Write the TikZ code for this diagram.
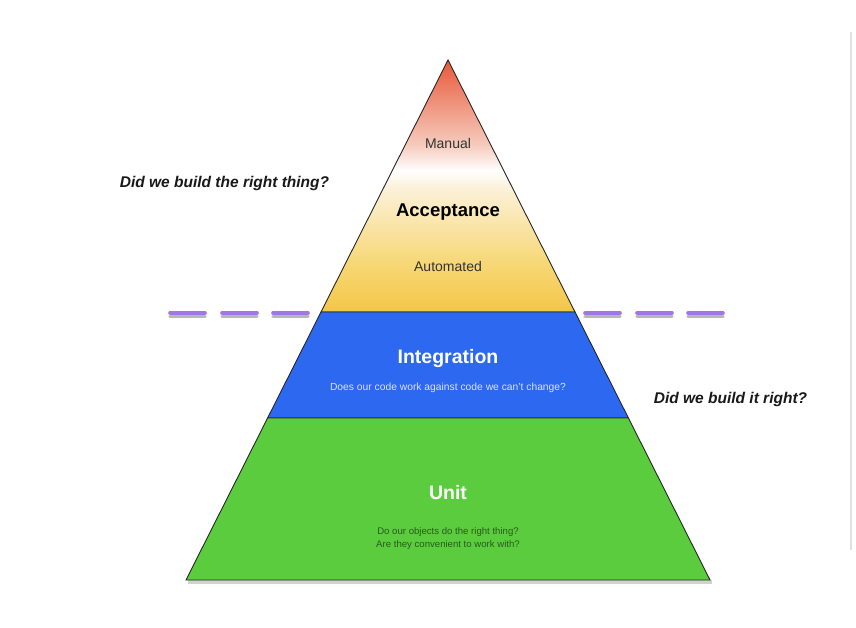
\documentclass[tikz,border=0pt]{standalone}
\usepackage{fontspec}
\setmainfont{Liberation Sans}
\definecolor{accRed}{RGB}{232,88,58}
\definecolor{accPink}{RGB}{246,204,190}
\definecolor{accCream}{RGB}{252,242,220}
\definecolor{accPale}{RGB}{247,216,120}
\definecolor{accYel}{RGB}{243,198,70}
\definecolor{intBlue}{RGB}{45,104,240}
\definecolor{unitGreen}{RGB}{91,204,62}
\definecolor{dashPurple}{RGB}{160,120,230}
\definecolor{intText}{RGB}{215,228,250}
\definecolor{unitText}{RGB}{40,90,30}
\pgfdeclareverticalshading{accshade}{100bp}{color(0bp)=(accYel); color(25bp)=(accYel); color(35bp)=(accPale); color(50bp)=(accCream); color(53bp)=(white); color(58bp)=(accPink); color(75bp)=(accRed); color(100bp)=(accRed)}
\begin{document}
\begin{tikzpicture}[x=1pt,y=-1pt,
  edge/.style={draw=black!85, line width=0.9pt, line join=miter},
  dashseg/.style={draw=dashPurple, line width=3.6pt, line cap=round},
  dashshade/.style={draw=black!40, line width=3.2pt, line cap=round, opacity=0.7},
  tiername/.style={font=\bfseries\fontsize{19.5}{22}\selectfont, text=white, inner sep=0pt},
  question/.style={font=\bfseries\itshape\fontsize{15.5}{18}\selectfont, text=black!90, inner sep=0pt},
  acclabel/.style={font=\fontsize{14}{16}\selectfont, text=black!80, inner sep=0pt}]
\useasboundingbox (0,0) rectangle (856,628);
\fill[white] (0,0) rectangle (856,628);
% coordinates
\coordinate (apex) at (448,60);
\coordinate (aL) at (321,312);
\coordinate (aR) at (575,312);
\coordinate (iL) at (267.6,418);
\coordinate (iR) at (628.4,418);
\coordinate (uL) at (186,580);
\coordinate (uR) at (710,580);
% faint frame line on the right
\draw[black!12, line width=1.2pt] (851,32) -- (851,550);
% dashes (shadow then stroke)
\foreach \a/\b [count=\i] in {170/205,222/257,273/308,585/620,637/672,688/723}{
  \coordinate (ds\i) at (\a,313);
  \coordinate (de\i) at (\b,313);
  \draw[dashshade] ([yshift=-3.5pt]ds\i) -- ([yshift=-3.5pt]de\i);
  \draw[dashseg] (ds\i) -- (de\i);
}
% pyramid shadow
\fill[black!50, opacity=0.35] ([shift={(1.5,3.5)}]uL) -- ([shift={(1.5,3.5)}]uR) -- ([shift={(1.5,0)}]uR) -- ([shift={(1.5,0)}]uL) -- cycle;
% tiers
\shade[shading=accshade] (apex) -- (aR) -- (aL) -- cycle;
\draw[edge] (apex) -- (aR) -- (aL) -- cycle;
\fill[intBlue] (aL) -- (aR) -- (iR) -- (iL) -- cycle;
\draw[edge] (aL) -- (aR) -- (iR) -- (iL) -- cycle;
\fill[unitGreen] (iL) -- (iR) -- (uR) -- (uL) -- cycle;
\draw[edge] (iL) -- (iR) -- (uR) -- (uL) -- cycle;
% acceptance texts
\node[acclabel] (manual) at (448,143) {Manual};
\node[font=\bfseries\fontsize{18.5}{21}\selectfont, text=black, inner sep=0pt] (acc) at (448,212) {Acceptance};
\node[acclabel] (auto) at (448,266) {Automated};
% integration
\node[tiername] (int) at (448,358) {Integration};
\node[font=\fontsize{10.3}{12}\selectfont, text=intText, inner sep=0pt] (intq) at (448,388) {Does our code work against code we can't change?};
% unit
\node[tiername] (unit) at (448,493) {Unit};
\node[font=\fontsize{9.6}{13}\selectfont, text=unitText, align=center, inner sep=0pt] (unitq) at (448,538.5) {Do our objects do the right thing?\\Are they convenient to work with?};
% questions
\node[question] (q1) at (224.5,183) {Did we build the right thing?};
\node[question] (q2) at (730.5,399) {Did we build it right?};
\end{tikzpicture}
\end{document}
